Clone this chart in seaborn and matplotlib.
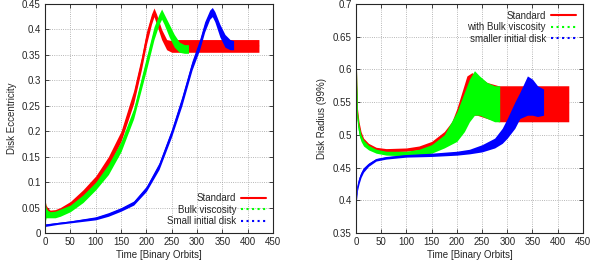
import matplotlib
matplotlib.use("Agg")
import matplotlib.pyplot as plt
from matplotlib.lines import Line2D
import numpy as np
import pandas as pd
import seaborn as sns

# ---- left panel: disk eccentricity (band = oscillation envelope) ----
t_std = [0, 2, 5, 10, 20, 30, 50, 75, 100, 125, 150, 175, 190, 200, 210, 215, 220, 230, 240, 250, 260, 300, 350, 400, 422]
std_lo = [0.03, 0.035, 0.035, 0.035, 0.036, 0.04, 0.05, 0.07, 0.095, 0.13, 0.18, 0.255, 0.32, 0.37, 0.41, 0.425, 0.41, 0.38, 0.36, 0.355, 0.355, 0.355, 0.355, 0.355, 0.355]
std_hi = [0.065, 0.055, 0.05, 0.045, 0.046, 0.05, 0.062, 0.085, 0.112, 0.15, 0.2, 0.28, 0.345, 0.395, 0.43, 0.442, 0.43, 0.4, 0.38, 0.378, 0.38, 0.38, 0.38, 0.38, 0.38]

t_bulk = [0, 2, 5, 10, 20, 30, 50, 75, 100, 125, 150, 175, 200, 215, 225, 230, 235, 245, 255, 265, 275, 283]
bulk_lo = [0.02, 0.03, 0.03, 0.03, 0.03, 0.033, 0.042, 0.06, 0.085, 0.115, 0.16, 0.225, 0.32, 0.38, 0.41, 0.42, 0.41, 0.385, 0.365, 0.355, 0.353, 0.353]
bulk_hi = [0.068, 0.05, 0.045, 0.042, 0.043, 0.047, 0.055, 0.075, 0.1, 0.135, 0.18, 0.245, 0.345, 0.405, 0.43, 0.44, 0.43, 0.41, 0.39, 0.375, 0.37, 0.37]

t_small = [0, 25, 50, 75, 100, 125, 150, 175, 200, 225, 250, 270, 290, 305, 315, 325, 330, 335, 345, 355, 365, 372]
small_lo = [0.013, 0.017, 0.02, 0.023, 0.026, 0.033, 0.043, 0.055, 0.082, 0.125, 0.19, 0.25, 0.32, 0.36, 0.395, 0.42, 0.425, 0.415, 0.385, 0.365, 0.36, 0.36]
small_hi = [0.018, 0.021, 0.024, 0.028, 0.032, 0.04, 0.05, 0.063, 0.092, 0.138, 0.205, 0.268, 0.338, 0.38, 0.415, 0.438, 0.443, 0.435, 0.41, 0.39, 0.38, 0.378]

# ---- right panel: disk radius (99%) ----
t_std_r = [0, 1, 3, 6, 10, 15, 25, 40, 60, 100, 125, 150, 175, 190, 200, 210, 220, 230, 240, 260, 283, 300, 350, 400, 422]
std_r_lo = [0.60, 0.56, 0.52, 0.505, 0.495, 0.488, 0.48, 0.475, 0.474, 0.475, 0.477, 0.48, 0.49, 0.5, 0.51, 0.52, 0.53, 0.53, 0.53, 0.525, 0.52, 0.52, 0.52, 0.52, 0.52]
std_r_hi = [0.66, 0.60, 0.54, 0.52, 0.505, 0.495, 0.487, 0.481, 0.479, 0.48, 0.483, 0.49, 0.505, 0.52, 0.54, 0.565, 0.59, 0.595, 0.59, 0.58, 0.575, 0.575, 0.575, 0.575, 0.575]

t_bulk_r = [0, 1, 3, 6, 10, 15, 25, 40, 60, 100, 125, 150, 175, 200, 215, 225, 235, 245, 260, 275, 285]
bulk_r_lo = [0.60, 0.56, 0.52, 0.50, 0.49, 0.483, 0.477, 0.472, 0.469, 0.468, 0.469, 0.472, 0.48, 0.49, 0.505, 0.52, 0.53, 0.53, 0.525, 0.52, 0.52]
bulk_r_hi = [0.66, 0.60, 0.535, 0.515, 0.5, 0.492, 0.484, 0.478, 0.475, 0.475, 0.478, 0.485, 0.5, 0.535, 0.565, 0.585, 0.598, 0.59, 0.58, 0.575, 0.575]

t_small_r = [0, 1, 3, 6, 10, 15, 25, 40, 60, 100, 150, 200, 225, 250, 275, 290, 300, 315, 325, 340, 350, 360, 372]
small_r_lo = [0.385, 0.40, 0.415, 0.425, 0.435, 0.443, 0.452, 0.46, 0.463, 0.466, 0.467, 0.469, 0.471, 0.474, 0.48, 0.487, 0.495, 0.51, 0.525, 0.53, 0.53, 0.528, 0.53]
small_r_hi = [0.39, 0.41, 0.425, 0.435, 0.443, 0.45, 0.457, 0.464, 0.467, 0.47, 0.472, 0.475, 0.478, 0.485, 0.495, 0.51, 0.525, 0.55, 0.565, 0.59, 0.585, 0.575, 0.57]

RED, GREEN, BLUE = "#ff0000", "#00ff00", "#0000ff"

sns.set_style("ticks")
plt.rcParams["font.family"] = ["Liberation Sans", "DejaVu Sans"]
plt.rcParams["font.size"] = 7

fig = plt.figure(figsize=(5.94, 2.61), dpi=100)
ax1 = fig.add_axes([0.0758, 0.107, 0.384, 0.878])
ax2 = fig.add_axes([0.5993, 0.107, 0.382, 0.878])


def band(ax, t, lo, hi, color):
    t, lo, hi = np.array(t), np.array(lo), np.array(hi)
    ax.fill_between(t, lo, hi, color=color, lw=0, zorder=3)
    sns.lineplot(x=t, y=(lo + hi) / 2, color=color, lw=0.6, ax=ax, zorder=3)


band(ax1, t_std, std_lo, std_hi, RED)
band(ax1, t_bulk, bulk_lo, bulk_hi, GREEN)
band(ax1, t_small, small_lo, small_hi, BLUE)

band(ax2, t_std_r, std_r_lo, std_r_hi, RED)
band(ax2, t_bulk_r, bulk_r_lo, bulk_r_hi, GREEN)
band(ax2, t_small_r, small_r_lo, small_r_hi, BLUE)

for ax in (ax1, ax2):
    ax.set_xlim(0, 450)
    ax.set_xticks(range(0, 451, 50))
    ax.grid(True, color="#a0a0a0", ls=":", lw=0.6, zorder=0)
    ax.tick_params(direction="in", top=True, right=True, length=3, width=0.6, labelsize=7, pad=3)
    for s in ax.spines.values():
        s.set_linewidth(0.8)
        s.set_zorder(5)
    ax.set_xlabel("Time [Binary Orbits]", fontsize=7, labelpad=2)

ax1.set_ylim(0, 0.45)
ax1.set_yticks(np.arange(0, 0.451, 0.05))
ax1.set_yticklabels(["0", "0.05", "0.1", "0.15", "0.2", "0.25", "0.3", "0.35", "0.4", "0.45"])
ax1.set_ylabel("Disk Eccentricity", fontsize=7, labelpad=4)

ax2.set_ylim(0.35, 0.7)
ax2.set_yticks(np.arange(0.35, 0.701, 0.05))
ax2.set_yticklabels(["0.35", "0.4", "0.45", "0.5", "0.55", "0.6", "0.65", "0.7"])
ax2.set_ylabel("Disk Radius (99%)", fontsize=7, labelpad=4)

h = [Line2D([], [], color=RED, lw=1.5),
     Line2D([], [], color=GREEN, lw=1.5, ls=":"),
     Line2D([], [], color=BLUE, lw=1.5, ls=":")]
ax1.legend(h, ["Standard", "Bulk viscosity", "Small initial disk"], loc="lower right",
           frameon=False, markerfirst=False, fontsize=7, handlelength=2.6,
           labelspacing=0.15, borderaxespad=0.3, handletextpad=0.5)
ax2.legend(h, ["Standard", "with Bulk viscosity", "smaller initial disk"], loc="upper right",
           frameon=False, markerfirst=False, fontsize=7, handlelength=2.6,
           labelspacing=0.15, borderaxespad=0.3, handletextpad=0.5)

fig.savefig("out.png", dpi=100)
